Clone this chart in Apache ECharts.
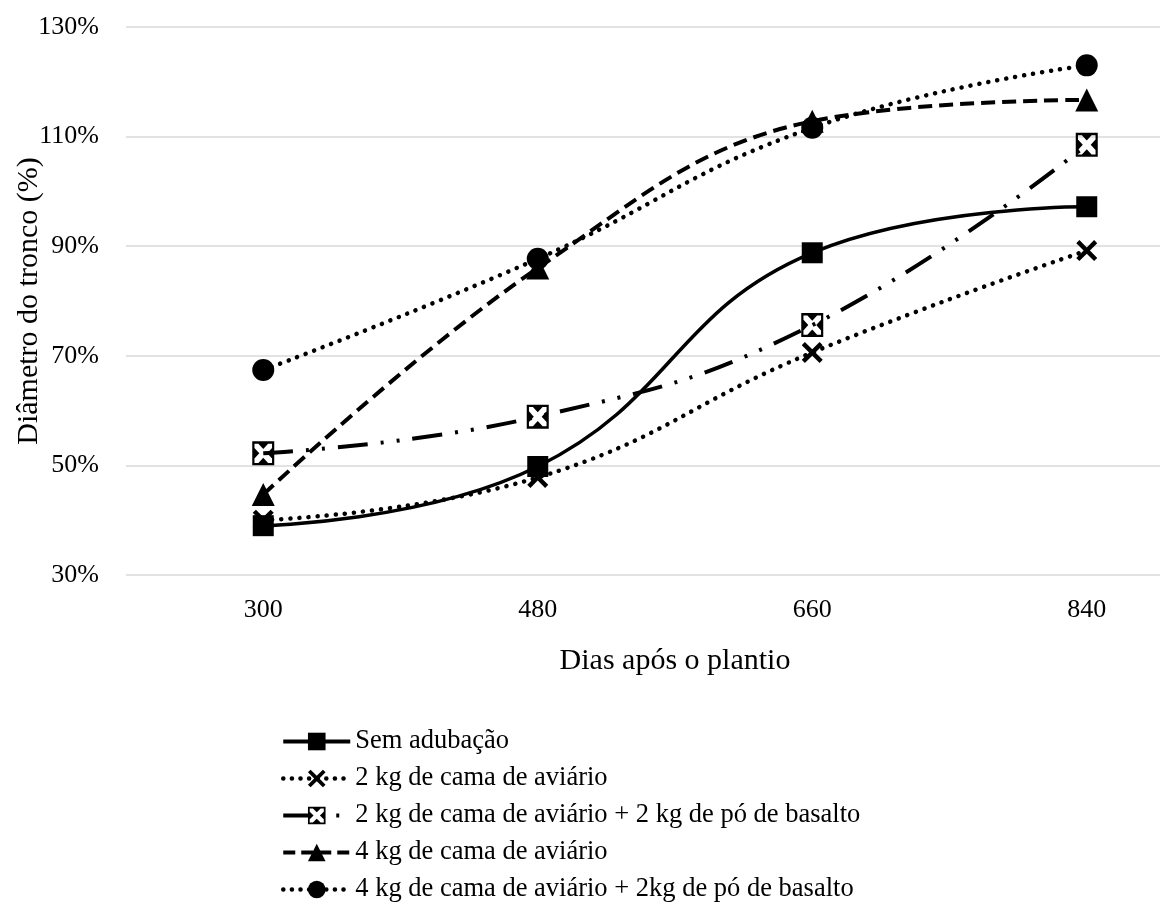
<!DOCTYPE html>
<html>
<head>
<meta charset="utf-8">
<script src="https://cdn.jsdelivr.net/npm/echarts@6/dist/echarts.min.js"></script>
<style>html,body{margin:0;padding:0;background:#fff;}#chart{width:1160px;height:916px;}</style>
</head>
<body>
<div id="chart"></div>
<script>
const categories = ['300', '480', '660', '840'];
const yTicks = [30, 50, 70, 90, 110, 130];
const seriesNames = [
  'Sem adubação',
  '2 kg de cama de aviário',
  '2 kg de cama de aviário + 2 kg de pó de basalto',
  '4 kg de cama de aviário',
  '4 kg de cama de aviário + 2kg de pó de basalto'
];
const semAdubacao = [39.0, 49.8, 88.8, 97.2];
const cama2 = [40.0, 47.8, 70.6, 89.2];
const cama2Basalto = [52.2, 58.9, 75.6, 108.5];
const cama4 = [44.7, 86.0, 112.8, 116.7];
const cama4Basalto = [67.4, 87.7, 111.6, 123.0];

const FONT = 'Liberation Serif';
const xPath = 'path://M0 15 L15 0 L50 35 L85 0 L100 15 L65 50 L100 85 L85 100 L50 65 L15 100 L0 85 L35 50 Z';
const boxXPath = 'path://M0 0 H100 V10 H0 Z M0 90 H100 V100 H0 Z M0 10 H10 V90 H0 Z M90 10 H100 V90 H90 Z ' +
  'M28 10 L72 10 L50 32 Z M28 90 L72 90 L50 68 Z M10 28 L10 72 L32 50 Z M90 28 L90 72 L68 50 Z';

const dotted = [0.1, 9];
const legendLines = [
  { width: 4, type: 'solid' },
  { width: 4.5, type: [0.1, 8.5], cap: 'round' },
  { width: 4, type: [26, 27, 3, 30], cap: 'butt' },
  { width: 4, type: [12, 6], cap: 'butt' },
  { width: 4.5, type: [0.1, 8.5], cap: 'round' }
];

const chart = echarts.init(document.getElementById('chart'));
chart.setOption({
  animation: false,
  backgroundColor: '#fff',
  textStyle: { fontFamily: FONT, color: '#000' },
  grid: { left: 126, top: 27, width: 1098, bottom: 341, containLabel: false, outerBoundsMode: 'none' },
  xAxis: {
    type: 'category',
    data: categories,
    boundaryGap: true,
    axisLine: { show: false },
    axisTick: { show: false },
    axisLabel: { fontFamily: FONT, fontSize: 26, color: '#000', margin: 22 },
    name: 'Dias após o plantio',
    nameLocation: 'middle',
    nameGap: 71,
    nameMoveOverlap: false,
    nameTextStyle: { fontFamily: FONT, fontSize: 30, color: '#000' }
  },
  yAxis: {
    type: 'value',
    min: yTicks[0],
    max: yTicks[yTicks.length - 1],
    interval: yTicks[1] - yTicks[0],
    axisLine: { show: false },
    axisTick: { show: false },
    splitLine: { lineStyle: { color: '#d9d9d9', width: 1.5 } },
    axisLabel: { fontFamily: FONT, fontSize: 26, color: '#000', margin: 27, formatter: '{value}%' },
    name: 'Diâmetro do tronco (%)',
    nameLocation: 'middle',
    nameGap: 82,
    nameMoveOverlap: false,
    nameTextStyle: { fontFamily: FONT, fontSize: 30, color: '#000' }
  },
  legend: {
    orient: 'vertical',
    left: 276,
    top: 723,
    itemWidth: 67,
    itemHeight: 22,
    itemGap: 10,
    textStyle: { fontFamily: FONT, fontSize: 26.5, color: '#000', lineHeight: 26, padding: [0, 0, 0, 0] },
    data: seriesNames.map((n, i) => ({ name: n, lineStyle: legendLines[i] }))
  },
  series: [
    {
      name: seriesNames[0], type: 'line', data: semAdubacao, smooth: 0.45,
      symbol: 'rect', symbolSize: 21,
      lineStyle: { color: '#000', width: 3.5, type: 'solid' },
      itemStyle: { color: '#000' }, z: 5
    },
    {
      name: seriesNames[1], type: 'line', data: cama2, smooth: 0.45,
      symbol: xPath, symbolSize: 21, symbolKeepAspect: true,
      lineStyle: { color: '#000', width: 4.5, type: dotted, cap: 'round' },
      itemStyle: { color: '#000' }, z: 4
    },
    {
      name: seriesNames[2], type: 'line', data: cama2Basalto, smooth: 0.45,
      symbol: boxXPath, symbolSize: [22, 24],
      lineStyle: { color: '#000', width: 4, type: [30, 13, 3, 13, 3, 13], cap: 'butt' },
      itemStyle: { color: '#000' }, z: 3
    },
    {
      name: seriesNames[3], type: 'line', data: cama4, smooth: 0.4,
      symbol: 'triangle', symbolSize: 23,
      lineStyle: { color: '#000', width: 4, type: [14, 7], cap: 'butt' },
      itemStyle: { color: '#000' }, z: 1
    },
    {
      name: seriesNames[4], type: 'line', data: cama4Basalto, smooth: 0.45,
      symbol: 'circle', symbolSize: 22,
      lineStyle: { color: '#000', width: 4.5, type: dotted, cap: 'round' },
      itemStyle: { color: '#000' }, z: 2
    }
  ]
});
</script>
</body>
</html>
